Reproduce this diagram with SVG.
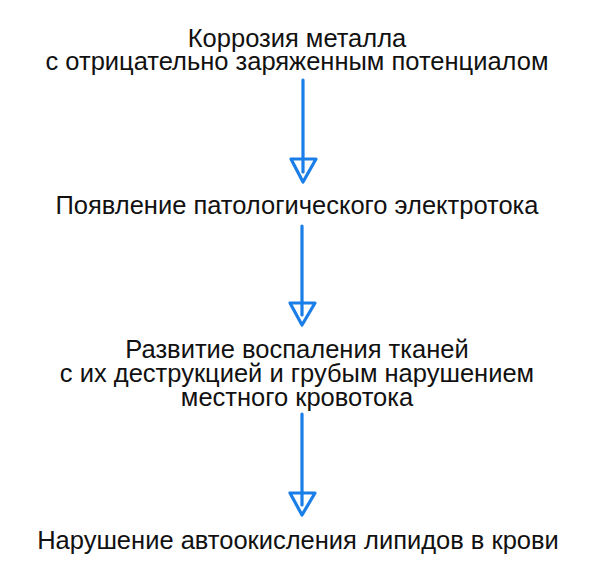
<svg xmlns="http://www.w3.org/2000/svg" width="600" height="582" viewBox="0 0 600 582">
<style>
text{font-family:"Liberation Sans",Arial,sans-serif;font-size:25.5px;fill:#111;text-anchor:middle}
.c{stroke:#1a7ee8;stroke-width:3.2;fill:none;stroke-linecap:round;stroke-linejoin:round}
</style>
<rect width="600" height="582" fill="#fff"/>
<g id="connectors">
<path class="c" d="M303 80 L303 172"/><path class="c" d="M291 159 L316 159 L303 182 Z"/>
<path class="c" d="M302 226 L302 315"/><path class="c" d="M290 303 L315 303 L302 325 Z"/>
<path class="c" d="M302 414 L302 505"/><path class="c" d="M290 493 L315 493 L302 515 Z"/>
</g>
<g id="n1"><text x="297" y="47">Коррозия металла</text><text x="297" y="70">с отрицательно заряженным потенциалом</text></g>
<g id="n2"><text x="297" y="214">Появление патологического электротока</text></g>
<g id="n3"><text x="297" y="358">Развитие воспаления тканей</text><text x="297" y="382">с их деструкцией и грубым нарушением</text><text x="297" y="406">местного кровотока</text></g>
<g id="n4"><text x="298" y="549">Нарушение автоокисления липидов в крови</text></g>
</svg>
